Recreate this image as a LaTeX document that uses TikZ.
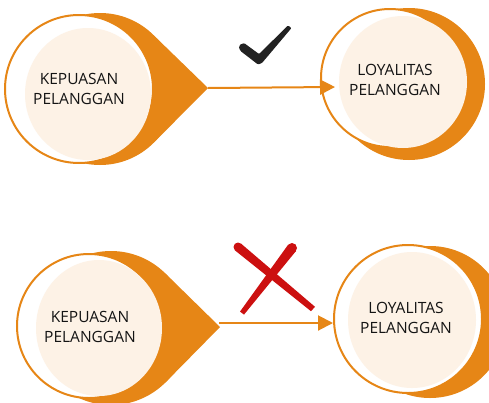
\documentclass[tikz,border=0pt]{standalone}
\usepackage{fontspec}
\setmainfont{Open Sans}
\usetikzlibrary{arrows.meta}
\definecolor{org}{RGB}{230,134,22}
\definecolor{crm}{RGB}{253,242,230}
\definecolor{txt}{RGB}{20,20,20}
\definecolor{xred}{RGB}{204,16,16}
\definecolor{chk}{RGB}{34,34,34}
\tikzset{
  drop/.style={fill=org, draw=none},
  ring/.style={fill=white, draw=org, line width=2pt},
  creamdisc/.style={fill=crm, draw=none},
  lbl/.style={align=center, text=txt, font=\fontsize{15.5}{20.5}\selectfont, inner sep=0pt},
  conn/.style={draw=org, line width=2pt, -{Triangle[length=15pt,width=15pt]}}
}
\begin{document}
\begin{tikzpicture}[x=1pt,y=-1pt]
\useasboundingbox (0,0) rectangle (489,402);
% ---------- top row ----------
% left teardrop
\fill[drop] (100,89) circle[radius=76pt];
\fill[drop] (208,88) -- (153.4,35) -- (100,89) -- (153.4,143) -- cycle;
\draw[ring] (79,89) circle[radius=74pt];
\fill[creamdisc] (88,94) ellipse[x radius=63pt, y radius=66pt];
\node[lbl] (k1) at (79,89) {KEPUASAN\\PELANGGAN};
% right circle
\fill[drop] (409,84) circle[radius=76pt];
\draw[ring] (390,78) circle[radius=69pt];
\fill[creamdisc] (403,82) ellipse[x radius=64pt, y radius=66pt];
\node[lbl] (l1) at (395,80) {LOYALITAS\\PELANGGAN};
\coordinate (p1) at (208,88);
\coordinate (t1) at (335,87);
\draw[conn] (p1) -- (t1);
% check mark
\fill[chk, rounded corners=1pt] (240.5,46) -- (244,43) -- (259,54) -- (288,25.5) -- (291.5,28) -- (262,63) -- (258,64.5) -- (240.5,51) -- cycle;
\fill[chk] (243,47.5) circle[radius=4pt];
% ---------- bottom row ----------
\fill[drop] (111,328) circle[radius=77pt];
\fill[drop] (220,327) -- (165.4,273.5) -- (111,328) -- (165.4,382.5) -- cycle;
\draw[ring] (89,326) circle[radius=72pt];
\fill[creamdisc] (99,328) ellipse[x radius=63pt, y radius=68pt];
\node[lbl] (k2) at (90,327) {KEPUASAN\\PELANGGAN};
\fill[drop] (430,322) circle[radius=76pt];
\draw[ring] (408,319) circle[radius=74pt];
\fill[creamdisc] (412,320) ellipse[x radius=64pt, y radius=68pt];
\node[lbl] (l2) at (406,318) {LOYALITAS\\PELANGGAN};
\coordinate (p2) at (219,323);
\coordinate (t2) at (333,323);
\draw[conn] (p2) -- (t2);
% red cross
\fill[xred] (235.1,250.5) -- (240.9,243.5) -- (315,306.8) -- (311,311.2) -- cycle;
\fill[xred] (238,247) circle[radius=4.5pt];
\fill[xred] (296,251) -- (288,244.9) -- (240,311.6) -- (244,314.6) -- cycle;
\fill[xred] (292,248) circle[radius=5pt];
\end{tikzpicture}
\end{document}
